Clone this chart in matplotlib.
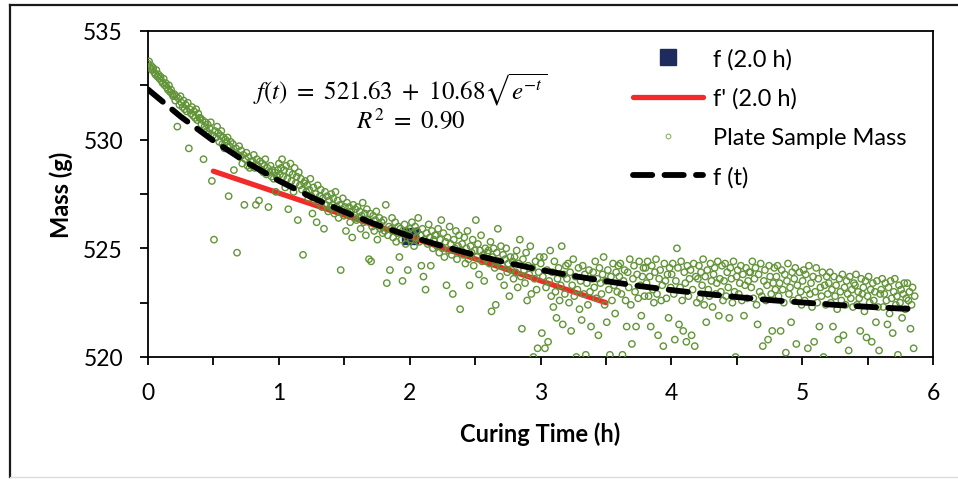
import matplotlib.pyplot as plt
import numpy as np
from matplotlib.lines import Line2D

plt.rcParams['font.family'] = ['Lato', 'DejaVu Sans']
plt.rcParams['mathtext.fontset'] = 'stix'

# plate sample mass (g), logged at a regular interval from 0 to 5.86 h
plate_mass = [
    533.5, 533.6, 533.3, 533.4, 533.2, 533.3, 533.1, 533.0, 533.2, 532.9, 533.0, 532.8, 532.9, 532.7, 532.6, 532.8, 532.5, 532.6, 532.4, 532.3, 532.5, 532.2, 532.3, 532.1, 532.0,
    532.1, 531.8, 532.0, 530.6, 531.9, 531.6, 532.0, 531.7, 531.5, 531.8, 531.4, 531.6, 531.3, 531.7, 529.6, 531.4, 531.2, 531.5, 531.1, 531.3, 531.0, 531.4, 530.9, 531.2, 531.0,
    531.0, 530.7, 530.9, 529.1, 530.6, 530.8, 530.4, 530.7, 530.3, 530.5, 530.8, 528.1, 530.2, 525.4, 530.4, 530.1, 530.6, 530.3, 529.9, 530.2, 530.4, 529.8, 530.1, 529.6, 530.0,
    529.9, 530.1, 527.4, 529.7, 529.9, 529.5, 529.8, 528.6, 529.4, 529.6, 524.8, 529.3, 529.7, 529.2, 529.5, 528.9, 529.3, 527.0, 529.1, 529.4, 528.8, 529.2, 528.7, 529.0, 528.8,
    529.0, 529.3, 528.7, 527.0, 529.1, 528.8, 527.2, 529.0, 528.6, 528.9, 528.5, 528.8, 529.1, 528.4, 528.7, 526.9, 528.5, 528.8, 528.3, 528.6, 528.2, 528.5, 527.6, 528.3, 528.6,
    528.9, 528.4, 528.7, 529.1, 528.3, 528.6, 527.8, 528.8, 528.2, 526.8, 528.5, 528.9, 528.1, 528.4, 527.6, 528.7, 528.0, 528.3, 526.3, 528.5, 527.9, 528.2, 527.7, 524.7, 528.0,
    528.1, 527.6, 527.9, 527.3, 527.7, 528.2, 527.4, 526.6, 527.8, 527.2, 527.5, 526.2, 527.9, 527.1, 527.4, 527.7, 526.9, 527.3, 525.9, 527.6, 527.0, 527.4, 526.7, 527.2, 526.9,
    527.5, 527.0, 527.3, 526.6, 527.6, 526.9, 527.2, 526.4, 527.0, 524.0, 526.8, 527.3, 526.5, 526.9, 525.8, 527.1, 526.6, 526.9, 526.2, 526.7, 525.5, 527.0, 526.4, 526.8, 526.3,
    526.9, 526.4, 526.7, 525.9, 526.5, 527.1, 526.2, 526.6, 525.6, 526.8, 526.3, 524.5, 526.6, 524.4, 526.0, 526.5, 525.8, 526.3, 526.7, 525.4, 526.1, 526.4, 525.9, 526.2, 525.7,
    526.3, 525.8, 527.0, 523.4, 525.6, 526.0, 524.0, 525.9, 526.4, 525.5, 525.8, 526.2, 525.3, 525.7, 526.0, 524.6, 525.9, 525.4, 523.5, 525.7, 526.1, 525.2, 525.8, 524.0, 525.6,
    525.9, 525.4, 526.2, 525.7, 525.1, 526.0, 525.5, 525.8, 526.4, 525.3, 525.6, 524.2, 525.9, 523.7, 525.4, 523.1, 525.7, 525.2, 526.1, 525.5, 524.2, 525.8, 525.0, 525.4, 525.6,
    525.6, 525.1, 525.9, 524.8, 525.4, 526.3, 525.0, 525.7, 524.6, 525.3, 523.3, 525.5, 524.9, 526.0, 525.2, 524.7, 522.9, 525.4, 525.0, 525.8, 524.5, 525.1, 525.6, 522.2, 524.9,
    525.2, 524.7, 525.5, 524.3, 525.0, 525.8, 524.5, 523.3, 525.1, 524.8, 525.4, 524.2, 524.9, 526.3, 524.6, 525.2, 523.8, 524.9, 525.6, 524.4, 524.7, 523.5, 525.0, 524.5, 524.8,
    524.9, 524.3, 525.3, 522.1, 524.6, 525.0, 524.1, 522.4, 524.8, 525.9, 524.4, 523.7, 525.1, 524.2, 524.7, 523.3, 524.5, 525.0, 523.9, 524.3, 522.8, 524.6, 524.0, 524.4, 523.6,
    524.6, 523.9, 524.9, 523.2, 524.3, 525.4, 523.7, 521.3, 524.5, 524.0, 523.4, 524.8, 522.6, 524.2, 523.8, 525.1, 522.9, 524.1, 520.0, 523.6, 524.4, 523.1, 520.4, 523.9, 524.6,
    524.3, 521.1, 523.7, 524.6, 520.4, 523.2, 524.0, 520.7, 523.5, 524.9, 522.8, 523.9, 522.3, 524.4, 523.0, 521.8, 523.6, 524.1, 522.6, 523.3, 525.1, 521.5, 523.8, 522.9, 524.2,
    523.6, 524.3, 522.5, 523.9, 521.2, 523.3, 524.5, 522.8, 523.7, 520.0, 523.1, 524.1, 522.2, 523.5, 521.7, 524.2, 522.9, 523.8, 520.1, 523.4, 522.4, 524.0, 523.0, 521.4, 523.6,
    523.9, 523.2, 524.4, 522.7, 523.6, 521.0, 524.1, 523.4, 522.9, 523.8, 524.6, 522.4, 523.5, 521.6, 524.0, 523.1, 520.1, 523.7, 522.6, 524.3, 523.3, 522.0, 523.9, 523.0, 524.2,
    523.7, 524.3, 522.9, 520.1, 523.5, 524.0, 522.6, 521.4, 523.9, 523.2, 524.5, 522.4, 520.6, 523.6, 524.2, 523.0, 521.4, 523.8, 522.7, 524.4, 523.3, 521.9, 523.7, 524.1, 522.8,
    524.1, 523.4, 524.4, 522.8, 523.7, 521.4, 524.2, 523.1, 522.5, 523.9, 524.5, 522.9, 521.0, 523.6, 524.0, 522.6, 523.3, 520.5, 524.3, 523.5, 522.7, 523.8, 521.8, 524.1, 523.2,
    523.8, 524.3, 522.9, 520.8, 523.5, 525.0, 524.1, 521.5, 523.2, 524.4, 522.6, 521.2, 523.9, 523.4, 520.7, 524.2, 522.8, 523.6, 524.0, 521.0, 523.1, 524.3, 520.5, 523.7, 522.5,
    523.6, 524.2, 522.7, 523.9, 523.3, 524.5, 522.4, 523.7, 521.6, 524.0, 523.1, 522.8, 524.3, 523.5, 522.3, 523.8, 524.1, 522.9, 523.4, 524.4, 521.9, 523.6, 523.0, 524.2, 522.6,
    523.5, 524.3, 522.8, 523.9, 523.2, 521.8, 524.1, 523.6, 522.5, 524.4, 523.0, 520.0, 523.7, 524.0, 522.9, 523.4, 524.2, 522.6, 523.8, 521.9, 523.3, 524.1, 522.7, 523.5, 523.9,
    523.9, 523.2, 524.4, 522.7, 523.6, 524.1, 522.4, 521.5, 523.8, 523.0, 524.3, 522.8, 520.5, 523.5, 524.0, 522.6, 523.3, 520.8, 524.2, 523.7, 522.9, 521.2, 523.4, 524.1, 523.1,
    523.7, 524.2, 522.8, 523.4, 521.2, 524.0, 523.1, 522.5, 523.8, 520.2, 523.5, 524.3, 522.9, 523.2, 521.6, 523.9, 522.6, 523.6, 524.1, 520.6, 523.3, 522.7, 523.9, 523.0, 522.4,
    523.5, 524.0, 522.6, 523.8, 523.1, 520.4, 524.2, 522.9, 523.4, 522.3, 523.7, 520.7, 523.0, 524.1, 522.5, 523.6, 521.4, 523.2, 522.8, 523.9, 520.0, 523.3, 522.4, 523.7, 522.9,
    523.4, 523.9, 522.5, 523.1, 521.4, 523.7, 522.8, 523.3, 522.2, 520.8, 523.6, 523.0, 522.6, 523.8, 521.0, 523.2, 522.4, 523.5, 522.9, 520.3, 523.7, 522.7, 523.1, 522.3, 523.4,
    523.3, 523.8, 522.4, 523.0, 522.7, 521.2, 523.6, 522.9, 523.2, 522.1, 523.5, 520.9, 522.8, 523.7, 522.5, 523.1, 520.7, 523.4, 522.6, 523.0, 521.6, 523.5, 522.3, 520.3, 522.9,
    523.1, 523.6, 522.3, 522.9, 523.4, 522.6, 521.5, 523.2, 522.0, 523.5, 522.7, 521.1, 523.0, 523.6, 522.4, 522.8, 520.1, 523.3, 522.5, 523.1, 521.8, 522.9, 523.4, 522.2, 522.7,
    523.4, 522.6, 523.0, 521.3, 522.4, 523.2, 520.4, 522.8,
]
sample_times = np.linspace(0.0, 5.86, len(plate_mass))

# fitted curve f(t)
fit_t = [0.0, 0.25, 0.5, 0.75, 1.0, 1.25, 1.5, 1.75, 2.0, 2.25, 2.5, 2.75, 3.0,
         3.25, 3.5, 3.75, 4.0, 4.25, 4.5, 4.75, 5.0, 5.25, 5.5, 5.75, 5.875]
fit_mass = [532.31, 531.06, 529.95, 528.97, 528.11, 527.35, 526.68, 526.08, 525.56,
            525.10, 524.69, 524.33, 524.01, 523.73, 523.49, 523.27, 523.08, 522.91,
            522.76, 522.62, 522.51, 522.40, 522.31, 522.23, 522.20]

# tangent at 2.0 h
tangent_t = [0.5, 3.5]
tangent_mass = [528.55, 522.5]

point_t = [2.0]
point_mass = [525.56]

green = '#629438'

fig = plt.figure(figsize=(9.58, 4.81), dpi=100)
ax = fig.add_axes([148 / 958, 1 - 358 / 481, (933 - 148) / 958, (358 - 32) / 481])

sq, = ax.plot(point_t, point_mass, 's', color='#1F2A5E', markersize=12, zorder=2)
red, = ax.plot(tangent_t, tangent_mass, color='#F22A2A', lw=3.8,
               solid_capstyle='round', zorder=3)
ax.scatter(sample_times, plate_mass, s=21, facecolors='none', edgecolors=green,
           linewidths=1.0, zorder=4)
dash, = ax.plot(fit_t, fit_mass, color='black', lw=4.2, dashes=(3.3, 2.1),
                dash_capstyle='round', zorder=5)

ax.set_xlim(0, 6)
ax.set_ylim(520, 535)
ax.set_xticks(range(7))
ax.set_xticks(np.arange(0.5, 6, 1), minor=True)
ax.set_yticks([520, 525, 530, 535])
ax.set_yticks([522.5, 527.5, 532.5], minor=True)
ax.tick_params(which='both', direction='out', length=6, width=1.3,
               labelsize=16.5, pad=12)
for sp in ax.spines.values():
    sp.set_linewidth(1.3)

ax.set_xlabel('Curing Time (h)', fontsize=17, fontweight='bold')
ax.set_ylabel('Mass (g)', fontsize=17, fontweight='bold')
ax.xaxis.set_label_coords(0.5, -0.235)
ax.xaxis.label.set_va('center')
ax.yaxis.set_label_coords(-0.11, 0.5)
ax.yaxis.label.set_va('center')

fig.text(400 / 958, 1 - 90 / 481, r'$f(t)\ =\ 521.63\ +\ 10.68\sqrt{e^{-t}}$',
         fontsize=18, ha='center', va='center')
fig.text(411 / 958, 1 - 119 / 481, r'$R^2\ =\ 0.90$', fontsize=18,
         ha='center', va='center')

scatter_key = Line2D([], [], marker='o', ls='none', markersize=3.4,
                     markerfacecolor='none', markeredgecolor='#8DB36A',
                     markeredgewidth=0.8)
ax.legend([sq, red, scatter_key, dash],
          ['f (2.0 h)', "f' (2.0 h)", 'Plate Sample Mass', 'f (t)'],
          loc='upper left', bbox_to_anchor=(633 / 958, 1 - 49 / 481),
          bbox_transform=fig.transFigure, frameon=False, fontsize=17,
          handlelength=2.95, handletextpad=0.42, labelspacing=0.76,
          borderpad=0, borderaxespad=0)

# outer chart border
fig.add_artist(Line2D([10 / 958, 10 / 958], [1 - 478 / 481, 1 - 6 / 481],
                      transform=fig.transFigure, color='#1a1a1a', lw=1.6))
fig.add_artist(Line2D([10 / 958, 1], [1 - 6 / 481, 1 - 6 / 481],
                      transform=fig.transFigure, color='#1a1a1a', lw=1.6))
fig.add_artist(Line2D([10 / 958, 1], [1 - 478 / 481, 1 - 478 / 481],
                      transform=fig.transFigure, color='#dddddd', lw=1.0))

fig.savefig('out.png', dpi=100)
